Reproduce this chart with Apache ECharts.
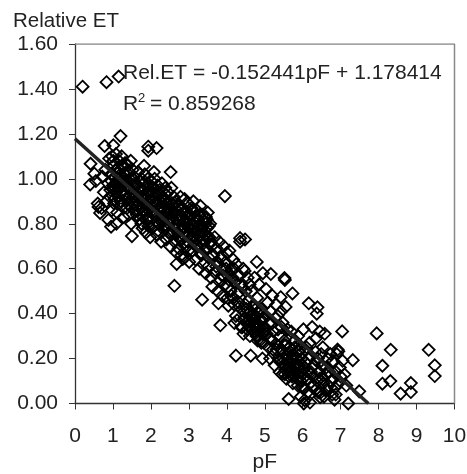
<!DOCTYPE html>
<html>
<head>
<meta charset="utf-8">
<style>html,body{margin:0;padding:0;background:#fff}#c{width:467px;height:474px}</style>
<script src="https://cdn.jsdelivr.net/npm/echarts@6/dist/echarts.min.js"></script>
</head>
<body>
<div id="c"></div>
<script>
const xTickLabels = [0,1,2,3,4,5,6,7,8,9,10];
const yTickLabels = ['0.00','0.20','0.40','0.60','0.80','1.00','1.20','1.40','1.60'];
const slope = -0.152441, intercept = 1.178414;

const edgePF = [0.2,0.83,1.15,1.2,0.78,1.01,1.93,1.93,2.15,0.41,0.51,0.4,1.82,2.08,2.52,3.95,0.6,0.66,0.88,0.95,1.09,1.5,2.62,3.35,3.78,4.04,3.83,4.24,2.68,2.84,4.35,4.79,5.16,5.52,5.53,5.73,5.42,6.16,6.39,6.37,7.04,7.95,8.32,9.32,9.48,9.48,8.1,8.1,8.31,8.58,8.85,8.85,7.32,7.49,7.2,6.84,5.63,6.03,6.19,6.46,4.63,4.94,6.94,6.9,0.62,0.7,0.55,4.2,5.95,6.05];
const edgeET = [1.41,1.43,1.455,1.19,1.146,1.149,1.143,1.125,1.137,1.067,1.023,0.975,1.058,1.03,1.03,0.923,0.89,0.848,0.817,0.787,0.8,0.745,0.524,0.462,0.446,0.435,0.348,0.213,0.621,0.643,0.736,0.63,0.576,0.558,0.55,0.49,0.473,0.446,0.428,0.4,0.321,0.312,0.239,0.239,0.17,0.122,0.168,0.088,0.1,0.044,0.091,0.051,0.193,0.054,0,0.017,0.02,0,0.004,0.028,0.213,0.2,0.232,0.22,0.875,0.87,0.99,0.358,0.03,0.015];

const seg1PF = [0.72,0.76,0.8,0.83,0.87,0.9,0.92,0.95,0.97,0.98,1.0,1.02,1.03,1.05,1.07,1.08,1.1,1.11,1.13,1.15,1.16,1.18,1.2,1.22,1.23,1.25,1.27,1.28,1.3,1.32,1.34,1.35,1.37,1.38,1.4,1.42,1.44,1.45,1.47,1.48,1.5,1.52,1.53,1.55,1.56,1.58,1.6,1.05,1.12,1.19,0.93,1.01,1.26,1.33,1.41,1.49,1.57];
const seg1ET = [1.01,0.94,1.04,0.9,0.98,1.09,0.92,1.02,0.86,1.1,0.97,1.06,0.89,1.01,0.94,1.11,0.98,0.85,1.05,0.92,1.08,0.96,1.02,0.88,1.1,0.94,1.05,0.83,0.99,1.07,0.91,1.03,0.87,0.96,1.06,0.84,1.0,0.93,1.08,0.8,0.97,1.04,0.89,0.94,1.01,0.86,0.98,0.96,1.03,0.9,0.95,1.08,0.97,0.93,0.99,0.87,0.92];

const seg2PF = [1.62,1.64,1.66,1.68,1.7,1.72,1.74,1.76,1.78,1.8,1.82,1.84,1.85,1.87,1.89,1.9,1.92,1.94,1.96,1.98,2.0,2.01,2.03,2.05,2.07,2.09,2.1,2.12,2.14,2.16,2.18,2.2,2.21,2.23,2.25,2.27,2.29,2.3,2.32,2.34,2.36,2.38,2.4,2.41,2.43,2.45,2.47,2.49,2.5,2.52,2.54,2.56,2.58,2.6,1.67,1.73,1.79,1.86,1.93,1.99,2.06,2.13,2.19,2.26,2.33,2.39,2.46,2.53,2.59,1.75,1.88,2.02,2.15,2.28,2.42,2.55];
const seg2ET = [0.97,0.88,1.03,0.93,0.82,0.99,0.9,1.0,0.78,0.95,0.85,1.02,0.92,0.76,0.97,0.88,1.0,0.83,0.94,0.74,0.91,0.99,0.86,0.96,0.79,0.89,1.0,0.84,0.93,0.75,0.97,0.87,0.8,0.95,0.9,0.72,0.98,0.83,0.92,0.86,0.78,0.96,0.89,0.73,0.84,0.94,0.8,0.9,0.7,0.86,0.96,0.77,0.85,0.92,0.86,0.94,0.83,0.89,0.79,0.97,0.85,0.91,0.77,0.87,0.81,0.93,0.86,0.75,0.88,0.8,0.82,0.78,0.88,0.91,0.79,0.82];

const seg3PF = [2.62,2.64,2.66,2.68,2.7,2.72,2.74,2.76,2.78,2.8,2.82,2.84,2.85,2.87,2.89,2.9,2.92,2.94,2.96,2.98,3.0,3.01,3.03,3.05,3.07,3.09,3.1,3.12,3.14,3.16,3.18,3.2,3.21,3.23,3.25,3.27,3.29,3.3,3.32,3.34,3.36,3.38,3.4,3.42,3.44,3.46,3.48,3.5,3.52,3.54,3.56,3.58,3.6,2.67,2.73,2.79,2.86,2.93,2.99,3.06,3.13,3.19,3.26,3.33,3.39,3.45,3.51,3.57,2.77,2.91,3.04,3.17,3.31,3.44];
const seg3ET = [0.72,0.84,0.9,0.67,0.78,0.88,0.74,0.83,0.92,0.66,0.78,0.87,0.71,0.81,0.91,0.65,0.76,0.85,0.7,0.89,0.79,0.63,0.84,0.74,0.87,0.68,0.8,0.9,0.72,0.83,0.64,0.77,0.86,0.7,0.82,0.6,0.75,0.88,0.67,0.79,0.84,0.62,0.73,0.81,0.58,0.69,0.78,0.85,0.65,0.74,0.8,0.56,0.7,0.8,0.69,0.86,0.75,0.81,0.68,0.77,0.85,0.7,0.79,0.66,0.76,0.83,0.61,0.72,0.73,0.8,0.83,0.76,0.72,0.8];

const seg4PF = [3.62,3.65,3.68,3.7,3.73,3.76,3.78,3.8,3.83,3.85,3.88,3.9,3.92,3.95,3.97,4.0,4.02,4.05,4.07,4.1,4.12,4.15,4.17,4.2,4.22,4.25,4.27,4.3,4.33,4.35,4.38,4.4,4.43,4.45,4.48,4.5,4.52,4.55,4.57,4.6,3.72,3.87,4.03,4.18,4.34,4.47];
const seg4ET = [0.52,0.66,0.74,0.58,0.69,0.5,0.62,0.72,0.55,0.65,0.48,0.6,0.7,0.53,0.63,0.67,0.47,0.58,0.68,0.5,0.6,0.56,0.64,0.44,0.54,0.62,0.37,0.49,0.57,0.72,0.34,0.52,0.6,0.41,0.73,0.5,0.36,0.56,0.46,0.53,0.61,0.57,0.52,0.47,0.43,0.59];

const seg5PF = [4.62,4.65,4.68,4.7,4.73,4.75,4.78,4.8,4.83,4.85,4.88,4.9,4.93,4.95,4.98,5.0,5.03,5.05,5.08,5.1,5.13,5.15,5.18,5.2,5.23,5.25,5.28,5.3,5.32,5.35,5.38,5.4,5.43,5.45,5.47,5.5,5.52,5.55,5.58,5.6,4.7,4.82,4.92,5.02,5.12,5.22,5.34,5.44,5.56];
const seg5ET = [0.39,0.5,0.33,0.44,0.56,0.36,0.3,0.47,0.34,0.53,0.28,0.42,0.33,0.58,0.27,0.38,0.51,0.31,0.45,0.25,0.36,0.41,0.28,0.48,0.32,0.22,0.38,0.44,0.26,0.33,0.19,0.3,0.41,0.24,0.36,0.17,0.28,0.43,0.21,0.33,0.35,0.3,0.37,0.33,0.29,0.24,0.39,0.34,0.26];

const seg6PF = [5.62,5.65,5.68,5.7,5.72,5.75,5.78,5.8,5.82,5.85,5.88,5.9,5.92,5.95,5.98,6.0,6.02,6.05,6.08,6.1,6.13,6.15,6.18,6.2,6.23,6.25,6.28,6.3,6.33,6.35,6.38,6.4,6.43,6.45,6.48,6.5,6.53,6.55,6.58,6.6,6.63,6.65,6.7,6.75,6.78,6.8,6.85,6.88,6.92,6.95,6.98,7.0,7.05,7.1,7.15,5.76,5.9,6.04,6.22,6.36,6.52];
const seg6ET = [0.14,0.25,0.18,0.32,0.12,0.22,0.16,0.28,0.2,0.11,0.3,0.17,0.24,0.1,0.2,0.13,0.33,0.07,0.18,0.25,0.05,0.14,0.27,0.09,0.21,0.34,0.12,0.17,0.06,0.29,0.1,0.2,0.14,0.32,0.05,0.17,0.25,0.09,0.31,0.13,0.06,0.2,0.14,0.1,0.04,0.19,0.07,0.14,0.24,0.09,0.16,0.12,0.19,0.13,0.08,0.19,0.23,0.16,0.14,0.19,0.11];

const denseAPF = [0.96,1.04,1.09,1.14,1.17,1.21,1.24,1.29,1.31,1.36,1.39,1.43,1.46,1.51,1.54,1.59,1.63,1.65,1.69,1.71,1.77,1.81,1.83,1.91,1.95,1.97,2.04,2.08,2.11,2.17,2.22,2.24,2.31,2.35,2.37,2.44,2.48,2.51,2.57,2.61,2.63,2.69,2.71,2.75,2.81,2.83,2.88,2.95,2.97,3.02,3.08,3.11,3.15,3.22,3.24,3.28,3.35,3.37,3.41,3.43,3.47,3.49,3.53,3.55];
const denseAET = [0.99,0.91,1.04,0.96,1.0,0.9,1.06,0.93,1.02,0.97,0.89,1.03,0.95,0.91,1.0,0.93,0.84,0.9,0.96,0.87,0.92,0.98,0.86,0.94,0.86,0.81,0.93,0.84,0.95,0.89,0.93,0.83,0.87,0.79,0.91,0.87,0.76,0.82,0.89,0.78,0.87,0.82,0.76,0.88,0.73,0.83,0.78,0.83,0.72,0.78,0.86,0.74,0.79,0.73,0.79,0.84,0.78,0.71,0.75,0.68,0.82,0.74,0.79,0.71];

const clusterBPF = [3.75,3.9,3.98,4.06,4.12,4.19,4.24,4.31,4.36,4.41,4.46,4.49,4.54,4.58,4.61,4.64,4.67,4.72,4.74,4.77,4.81,4.84,4.87,4.91,4.94,4.97,5.0,4.44,4.52,4.6,4.66,4.72,4.79,4.86,4.56,4.63,4.69,4.76];
const clusterBET = [0.63,0.57,0.6,0.55,0.48,0.6,0.39,0.45,0.53,0.34,0.38,0.44,0.33,0.4,0.3,0.36,0.43,0.32,0.39,0.35,0.28,0.4,0.32,0.27,0.38,0.31,0.34,0.31,0.42,0.37,0.33,0.38,0.33,0.37,0.35,0.41,0.37,0.42];

const clusterCPF = [5.14,5.2,5.26,5.31,5.36,5.39,5.42,5.46,5.49,5.51,5.54,5.57,5.59,5.61,5.64,5.67,5.69,5.71,5.74,5.77,5.79,5.81,5.84,5.87,5.89,5.91,5.94,5.97,5.99,6.03,6.07,6.11,6.14,6.19,6.24,6.29,6.34,6.41,6.44,6.49,6.56,6.62,6.68,6.73,6.82,6.87,5.45,5.53,5.6,5.66,5.73,5.8,5.86];
const clusterCET = [0.2,0.28,0.17,0.24,0.2,0.14,0.24,0.13,0.2,0.26,0.15,0.11,0.22,0.18,0.12,0.23,0.14,0.2,0.09,0.17,0.25,0.14,0.2,0.08,0.16,0.26,0.12,0.2,0.07,0.15,0.24,0.11,0.2,0.04,0.16,0.08,0.23,0.05,0.11,0.22,0.03,0.16,0.08,0.22,0.11,0.04,0.18,0.13,0.2,0.16,0.13,0.17,0.13];

const pF = [].concat(seg1PF, seg2PF, seg3PF, seg4PF, seg5PF, seg6PF, denseAPF, clusterBPF, clusterCPF, edgePF);
const relET = [].concat(seg1ET, seg2ET, seg3ET, seg4ET, seg5ET, seg6ET, denseAET, clusterBET, clusterCET, edgeET);
const points = pF.map((x, i) => [x, relET[i]]);
const trendXEnd = -intercept / slope;

const font = 'Liberation Sans, Arial, sans-serif';
const chart = echarts.init(document.getElementById('c'), null, {renderer: 'canvas'});
chart.setOption({
  animation: false,
  backgroundColor: '#fff',
  grid: {left: 75, top: 44, width: 379.5, height: 359.5, show: true, borderWidth: 0, backgroundColor: 'transparent', outerBoundsMode: 'none', containLabel: false},
  graphic: [
    {type: 'text', left: 13, top: 11, style: {text: 'Relative ET', font: '20.5px ' + font, fill: '#222'}},
    {type: 'text', left: 123, top: 63, z: 20, style: {text: 'Rel.ET = -0.152441pF + 1.178414', font: '21px ' + font, fill: '#222'}},
    {type: 'text', left: 123, top: 94, z: 20, style: {text: 'R', font: '21px ' + font, fill: '#222'}},
    {type: 'text', left: 138, top: 92, z: 20, style: {text: '2', font: '13px ' + font, fill: '#222'}},
    {type: 'text', left: 150, top: 94, z: 20, style: {text: '= 0.859268', font: '21px ' + font, fill: '#222'}}
  ],
  xAxis: {
    type: 'value', min: 0, max: 10, interval: 1,
    name: 'pF', nameLocation: 'middle', nameGap: 48,
    nameTextStyle: {fontFamily: font, fontSize: 21, color: '#222'},
    axisLine: {show: true, onZero: false, lineStyle: {color: '#333', width: 1.3}},
    axisTick: {show: true, length: 6, inside: false, lineStyle: {color: '#333', width: 1}},
    axisLabel: {fontFamily: font, fontSize: 21, color: '#222', margin: 22,
      formatter: v => String(xTickLabels[v])},
    splitLine: {show: false}
  },
  yAxis: {
    type: 'value', min: 0, max: 1.6, interval: 0.2,
    axisLine: {show: true, onZero: false, lineStyle: {color: '#333', width: 1.3}},
    axisTick: {show: true, length: 6, lineStyle: {color: '#333', width: 1}},
    axisLabel: {fontFamily: font, fontSize: 21, color: '#222', margin: 17,
      formatter: v => yTickLabels[Math.round(v / 0.2)]},
    splitLine: {show: false}
  },
  series: [
    {
      type: 'scatter', data: points, symbol: 'diamond', symbolSize: 12, clip: false, z: 3,
      itemStyle: {color: 'rgba(255,255,255,0)', borderColor: '#000', borderWidth: 1.8, opacity: 1},
      silent: true
    },
    {
      type: 'line', data: [[0, intercept], [trendXEnd, 0]], showSymbol: false, z: 5,
      lineStyle: {color: '#222', width: 3.5}, silent: true
    },
    {
      type: 'line', data: [[0, 1.6], [10, 1.6], [10, 0]], showSymbol: false, z: 2,
      lineStyle: {color: '#888', width: 1.5}, silent: true
    }
  ]
});
</script>
</body>
</html>
